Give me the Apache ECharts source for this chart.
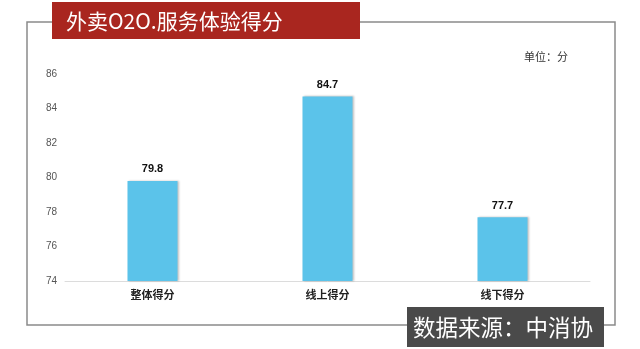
<!DOCTYPE html>
<html><head><meta charset="utf-8">
<script src="https://cdn.jsdelivr.net/npm/echarts@6/dist/echarts.min.js"></script>
<style>html,body{margin:0;padding:0;background:#fff}#c{width:640px;height:349px}</style>
</head><body><div id="c"></div>
<script>
const categories = ['整体得分', '线上得分', '线下得分'];
const scores = [79.8, 84.7, 77.7];
const titleText = '外卖O2O.服务体验得分';
const unitText = '单位：分';
const sourceText = '数据来源：中消协';

const chart = echarts.init(document.getElementById('c'));
const font = '"Noto Sans CJK SC", "Noto Sans", sans-serif';
const frameColor = '#8a8a8a';
chart.setOption({
  animation: false,
  textStyle: {fontFamily: font},
  grid: {left: 65, right: 50, top: 74, bottom: 68},
  xAxis: {
    type: 'category', data: categories,
    axisLine: {lineStyle: {color: '#dcdcdc'}},
    axisTick: {show: false},
    axisLabel: {color: '#222', fontSize: 11, fontWeight: 'bold', margin: 8}
  },
  yAxis: {
    type: 'value', min: 74, max: 86, interval: 2,
    axisLine: {show: false}, axisTick: {show: false},
    splitLine: {show: false},
    axisLabel: {color: '#555', fontSize: 10, margin: 8, fontFamily: 'Liberation Sans, Arial, sans-serif'}
  },
  series: [{
    type: 'bar', data: scores, barWidth: 50,
    itemStyle: {color: '#5bc3ea', shadowColor: 'rgba(0,0,0,0.25)', shadowOffsetX: 1, shadowOffsetY: 0, shadowBlur: 2},
    label: {show: true, position: 'top', color: '#111', fontWeight: 'bold', fontSize: 11, distance: 6,
            fontFamily: 'Liberation Sans, Arial, sans-serif'}
  }],
  graphic: [
    {type: 'polyline', shape: {points: [[52,22],[27,22],[27,325],[407,325]]}, style: {stroke: frameColor, lineWidth: 1.5, fill: null}},
    {type: 'polyline', shape: {points: [[360,22],[615,22],[615,325],[604,325]]}, style: {stroke: frameColor, lineWidth: 1.5, fill: null}},
    {type: 'rect', shape: {x: 52, y: 2, width: 308, height: 37}, style: {fill: '#a9261f'}},
    {type: 'text', x: 66, y: 21, style: {text: titleText, fill: '#fff', font: '21px ' + font, textVerticalAlign: 'middle'}},
    {type: 'text', x: 568, y: 57, style: {text: unitText, fill: '#333', font: '11px ' + font, textAlign: 'right', textVerticalAlign: 'middle'}},
    {type: 'rect', shape: {x: 407, y: 307, width: 197, height: 40}, style: {fill: '#4a4a4a'}},
    {type: 'text', x: 413, y: 327, style: {text: sourceText, fill: '#fff', font: '22.5px ' + font, textVerticalAlign: 'middle'}}
  ]
});
</script></body></html>
